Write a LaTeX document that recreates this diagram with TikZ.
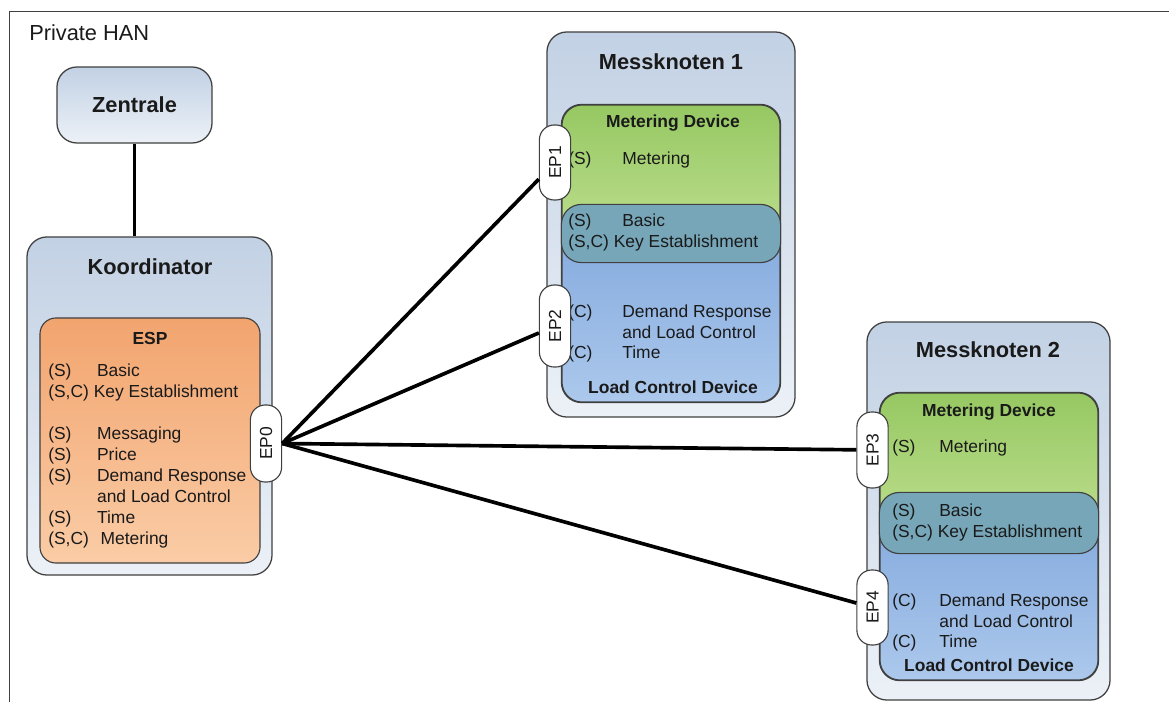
\documentclass[tikz,border=0pt]{standalone}
\usepackage{fontspec}
\setmainfont{Liberation Sans}

\definecolor{hanA}{RGB}{194,209,228}
\definecolor{hanB}{RGB}{236,241,247}
\definecolor{espA}{RGB}{242,164,110}
\definecolor{espB}{RGB}{250,204,166}
\definecolor{mdA}{RGB}{150,200,98}
\definecolor{mdB}{RGB}{196,226,150}
\definecolor{lcdA}{RGB}{126,166,220}
\definecolor{lcdB}{RGB}{172,200,236}
\definecolor{both}{RGB}{118,166,184}
\definecolor{rim}{RGB}{64,64,64}
\definecolor{ink}{RGB}{26,26,26}

\newcommand{\bigfont}{\fontsize{15.5}{18}\selectfont}
\newcommand{\txtfont}{\fontsize{12.4}{14.9}\selectfont}
\newcommand{\cl}[3][2.8em]{\makebox[#1][l]{#2}#3}

\begin{document}
\begin{tikzpicture}
		[x=0.025cm, y=-0.025cm,
		 box/.style={draw=rim, line width=0.9pt, rounded corners=0.5cm, top color=hanA, bottom color=hanB, inner sep=0},
		 esp/.style={draw=rim, line width=0.8pt, rounded corners=0.4cm, top color=espA, bottom color=espB, inner sep=0},
		 md/.style={draw=rim, line width=0.8pt, rounded corners=0.5cm, top color=mdA, bottom color=mdB, inner sep=0},
		 lcd/.style={draw=rim, line width=0.8pt, rounded corners=0.5cm, top color=lcdA, bottom color=lcdB, inner sep=0},
		 ep/.style={draw=rim, line width=0.8pt, fill=white, rounded corners=0.37cm, rotate=90, minimum height=0.78cm, inner sep=0, font=\txtfont, text=ink},
		 title/.style={font=\bigfont\bfseries, text=ink, inner sep=0},
		 sub/.style={font=\txtfont\bfseries, text=ink, inner sep=0},
		 txt/.style={anchor=west, align=left, font=\txtfont, text=ink, inner sep=0},
		 link/.style={-, line width=2.6pt, black}]

		\useasboundingbox (0,0) rectangle (1169,702);
		\draw[rim, line width=0.7pt] (1169,11) -- (9,11) -- (9,702);
		\node[anchor=west, font=\bigfont, text=ink, inner sep=0] (han) at (29,33) {Private HAN};

		% Zentrale und Koordinator
		\node[box, minimum width=3.875cm, minimum height=1.9cm, font=\bigfont\bfseries, text=ink] (zentrale) at (134.5,105) {Zentrale};

		\node[box, minimum width=6.125cm, minimum height=8.45cm] (koord) at (149.5,406) {};
		\node[title] (koordt) at (150,267) {Koordinator};
		\node[esp, minimum width=5.5cm, minimum height=6.125cm] (esp) at (150,440.5) {};
		\node[sub] (espt) at (150,338) {ESP};
		\node[txt] (espl) at (48,456)
			{\cl{(S)}{Basic}\\(S,C) Key Establishment\\[14.9pt]
			 \cl{(S)}{Messaging}\\\cl{(S)}{Price}\\\cl{(S)}{Demand Response}\\
			 \cl{}{and Load Control}\\\cl{(S)}{Time}\\\cl[3em]{(S,C)}{Metering}};
		\node[ep, minimum width=1.925cm] (ep0) at (266,443.5) {EP0};

		\draw[link] (zentrale.south) -- (zentrale.south |- koord.north);

		% Messknoten 1
		\node[box, minimum width=6.2cm, minimum height=9.625cm] (mk1) at (671,224.5) {};
		\node[title] (mk1t) at (671,62) {Messknoten 1};
		\node[md, minimum width=5.45cm, minimum height=3.925cm] (md1) at (671,183.5) {};
		\node[lcd, minimum width=5.45cm, minimum height=4.925cm] (lcd1) at (671,303.5) {};

		% Messknoten 2
		\node[box, minimum width=6.075cm, minimum height=9.45cm] (mk2) at (988.5,511) {};
		\node[title] (mk2t) at (988,350) {Messknoten 2};
		\node[md, minimum width=5.45cm, minimum height=4cm] (md2) at (989,473) {};
		\node[lcd, minimum width=5.45cm, minimum height=4.675cm] (lcd2) at (989,586.5) {};

		% gemeinsame Cluster
		\foreach \m/\l in {md1/lcd1, md2/lcd2} {
			\begin{scope}
				\clip[rounded corners=0.5cm] (\m.south west) rectangle (\m.north east);
				\fill[both, rounded corners=0.5cm] (\l.south west) rectangle (\l.north east);
			\end{scope}
			\draw[rim, line width=0.8pt, rounded corners=0.5cm] (\m.south west) rectangle (\m.north east);
			\draw[rim, line width=0.8pt, rounded corners=0.5cm] (\l.south west) rectangle (\l.north east);
		}

		\node[sub] (md1t) at (673,123) {Metering Device};
		\node[txt] (md1l) at (568,160) {\cl[3.1em]{(S)}{Metering}};
		\node[txt] (both1l) at (568,232.5) {\cl[3.1em]{(S)}{Basic}\\(S,C) Key Establishment};
		\node[txt] (lcd1l) at (568,333.5)
			{\cl[3.1em]{(C)}{Demand Response}\\\cl[3.1em]{}{and Load Control}\\\cl[3.1em]{(C)}{Time}};
		\node[sub] (lcd1t) at (673,387) {Load Control Device};

		\node[sub] (md2t) at (989,412) {Metering Device};
		\node[txt] (md2l) at (892,448) {\cl[2.7em]{(S)}{Metering}};
		\node[txt] (both2l) at (892,522.5) {\cl[2.7em]{(S)}{Basic}\\(S,C) Key Establishment};
		\node[txt] (lcd2l) at (892,622.5)
			{\cl[2.7em]{(C)}{Demand Response}\\\cl[2.7em]{}{and Load Control}\\\cl[2.7em]{(C)}{Time}};
		\node[sub] (lcd2t) at (989,665) {Load Control Device};

		% Endpunkte
		\node[ep, minimum width=1.875cm] (ep1) at (555,162.5) {EP1}
			edge [link]	(ep0.south)
		;
		\node[ep, minimum width=2.05cm] (ep2) at (555,326) {EP2}
			edge [link]	(ep0.south)
		;
		\node[ep, minimum width=1.9cm] (ep3) at (872.5,450) {EP3}
			edge [link]	(ep0.south)
		;
		\node[ep, minimum width=1.875cm] (ep4) at (872.5,607.5) {EP4}
			edge [link]	(ep0.south)
		;

	\end{tikzpicture}
\end{document}
